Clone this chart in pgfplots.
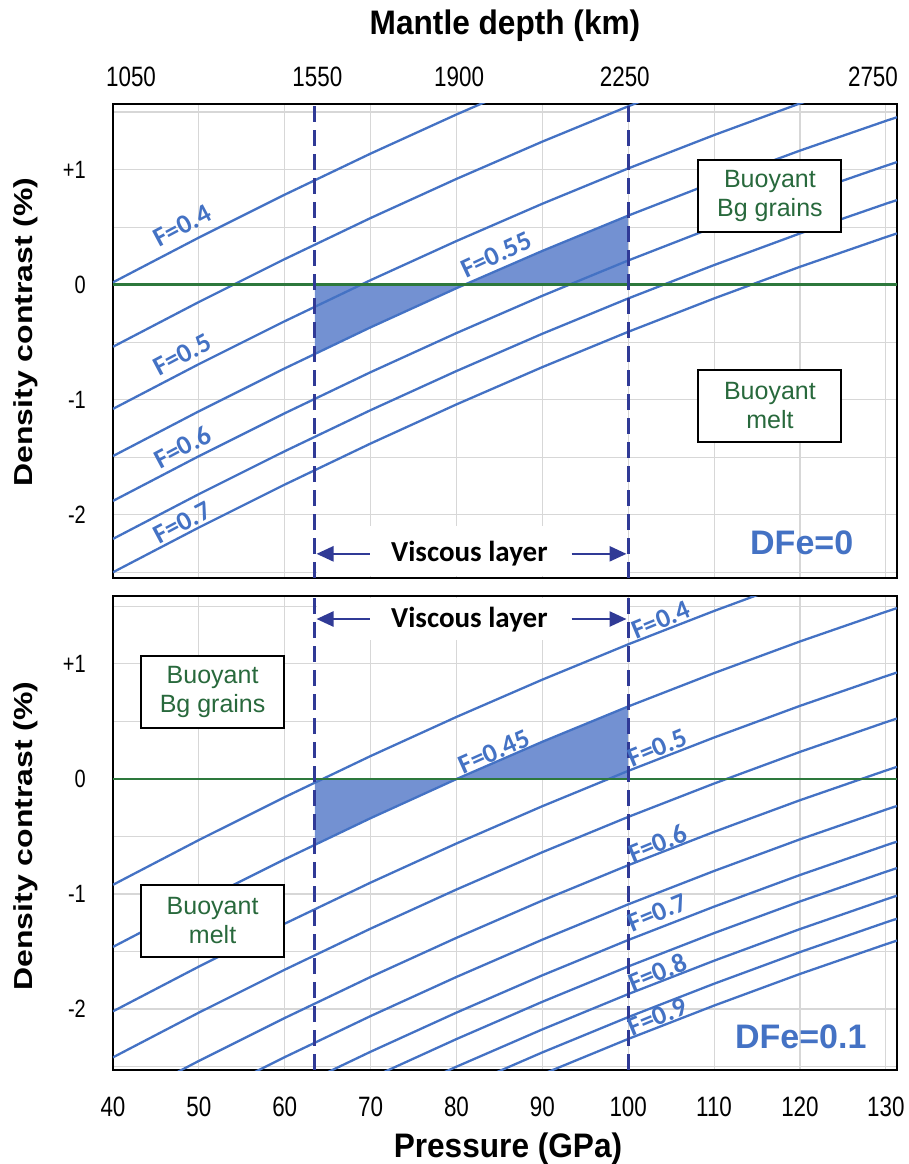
\documentclass[border=0pt]{standalone}
\usepackage{fontspec}
\setmainfont{Liberation Sans}
\newfontfamily\tickfont[FakeStretch=0.8]{Liberation Sans}
\newfontfamily\titlefont[FakeStretch=0.93]{Liberation Sans}
\newfontfamily\ylabfont[FakeStretch=1.23]{Liberation Sans}
\newfontfamily\carl{Carlito}
\usepackage{pgfplots}
\pgfplotsset{compat=1.18}
\usepackage{pgfplotstable}
\usetikzlibrary{arrows.meta}

\definecolor{cblue}{RGB}{68,114,196}
\definecolor{navy}{RGB}{48,58,150}
\definecolor{zgreen}{RGB}{45,120,60}
\definecolor{tgreen}{RGB}{40,105,60}
\definecolor{gridgray}{RGB}{215,215,215}
\definecolor{shade}{RGB}{115,145,210}

% top panel (DFe=0): F = 0.40 ... 0.70
\pgfplotstableread{
p T1 T2 T3 T4 T5 T6 T7
40 0.02 -0.54 -1.08 -1.49 -1.88 -2.21 -2.50
50 0.409 -0.151 -0.691 -1.101 -1.491 -1.821 -2.111
60 0.782 0.222 -0.318 -0.728 -1.118 -1.448 -1.738
70 1.139 0.579 0.039 -0.371 -0.761 -1.091 -1.381
80 1.479 0.919 0.379 -0.031 -0.421 -0.751 -1.041
90 1.803 1.243 0.703 0.293 -0.097 -0.427 -0.717
100 2.110 1.550 1.010 0.600 0.210 -0.120 -0.410
110 2.400 1.840 1.300 0.890 0.500 0.170 -0.120
120 2.675 2.115 1.575 1.165 0.775 0.445 0.155
130 2.933 2.373 1.833 1.423 1.033 0.703 0.413
131.3 2.965 2.405 1.865 1.455 1.065 0.735 0.445
}\toptable

% bottom panel (DFe=0.1): F = 0.40 ... 0.90
\pgfplotstableread{
p B1 B2 B3 B4 B5 B6 B7 B8 B9 B10 B11
40 -0.92 -1.46 -2.02 -2.42 -2.84 -3.18 -3.49 -3.72 -3.96 -4.16 -4.35
50 -0.531 -1.071 -1.631 -2.031 -2.451 -2.791 -3.101 -3.331 -3.571 -3.771 -3.961
60 -0.158 -0.698 -1.258 -1.658 -2.078 -2.418 -2.728 -2.958 -3.198 -3.398 -3.588
70 0.199 -0.341 -0.901 -1.301 -1.721 -2.061 -2.371 -2.601 -2.841 -3.041 -3.231
80 0.539 -0.001 -0.561 -0.961 -1.381 -1.721 -2.031 -2.261 -2.501 -2.701 -2.891
90 0.863 0.323 -0.237 -0.637 -1.057 -1.397 -1.707 -1.937 -2.177 -2.377 -2.567
100 1.170 0.630 0.070 -0.330 -0.750 -1.090 -1.400 -1.630 -1.870 -2.070 -2.260
110 1.460 0.920 0.360 -0.040 -0.460 -0.800 -1.110 -1.340 -1.580 -1.780 -1.970
120 1.735 1.195 0.635 0.235 -0.185 -0.525 -0.835 -1.065 -1.305 -1.505 -1.695
130 1.993 1.453 0.893 0.493 0.073 -0.267 -0.577 -0.807 -1.047 -1.247 -1.437
131.3 2.025 1.485 0.925 0.525 0.105 -0.235 -0.545 -0.775 -1.015 -1.215 -1.405
}\bottable

\tikzset{
  curve/.style={cblue, line width=2.3pt},
  flab/.style={font=\carl\bfseries\fontsize{27}{27}\selectfont, text=cblue, inner sep=0pt},
  bbox/.style={draw=black, line width=2pt, fill=white, text=tgreen, align=center,
    font=\fontsize{25}{29}\selectfont, minimum width=143pt, minimum height=72pt, inner sep=0pt},
  dfe/.style={font=\bfseries\fontsize{34}{34}\selectfont, text=cblue, inner sep=0pt},
  visc/.style={font=\carl\bfseries\fontsize{29}{29}\selectfont, inner sep=0pt},
  varr/.style={navy, line width=2.5pt, -{Triangle[length=17pt,width=15pt]}},
  vdash/.style={navy, line width=2.7pt, dash pattern=on 16pt off 8pt},
}

\pgfplotsset{panel/.style={
  scale only axis, width=784pt, height=474pt,
  xmin=40, xmax=131.3,
  axis line style={line width=2.5pt},
  major tick length=0pt, minor tick length=0pt,
  tick label style={inner sep=0pt},
  ytick={-2,-1,0,1}, yticklabels={-2,-1,0,+1},
  minor ytick={-2.5,-1.5,-0.5,0.5,1.5},
  ymajorgrids, yminorgrids,
  grid style={gridgray, line width=1.2pt},
  minor grid style={gridgray, line width=1.2pt},
  yticklabel style={font=\tickfont\fontsize{25}{25}\selectfont, anchor=east, xshift=-27pt},
}}

\begin{document}
\begin{tikzpicture}
\useasboundingbox (-113pt,104pt) rectangle (796pt,-1060pt);

% ---------------- top panel ----------------
\begin{axis}[panel, name=top, at={(0pt,0pt)}, anchor=north west,
  ymin=-2.55, ymax=1.57,
  xtick={42.1,63.8,80.3,99.6,128.5},
  xticklabels={1050,1550,1900,2250,2750},
  xticklabel pos=upper,
  xticklabel style={font=\tickfont\fontsize{28}{28}\selectfont, anchor=south, yshift=17pt},
  minor xtick={40,50,...,130},
  xmajorgrids=false, xminorgrids=true,
]
\fill[white] (axis cs:63.7,-2.535) rectangle (axis cs:99.8,-2.10);
\addplot[fill=shade, draw=none] coordinates {(63.5,0) (63.5,-0.60) (70,-0.371) (80,-0.031) (90,0.293) (100,0.600) (100,0) (63.5,0)};
\addplot[curve] table[x=p,y=T1]{\toptable};
\addplot[curve] table[x=p,y=T2]{\toptable};
\addplot[curve] table[x=p,y=T3]{\toptable};
\addplot[curve] table[x=p,y=T4]{\toptable};
\addplot[curve] table[x=p,y=T5]{\toptable};
\addplot[curve] table[x=p,y=T6]{\toptable};
\addplot[curve] table[x=p,y=T7]{\toptable};
\addplot[zgreen, line width=2.5pt] coordinates {(40,0) (131.3,0)};
\addplot[vdash] coordinates {(63.5,-2.55) (63.5,1.57)};
\addplot[vdash] coordinates {(100,-2.55) (100,1.57)};
\draw[varr] (axis cs:69.9,-2.34) -- (axis cs:63.7,-2.34);
\draw[varr] (axis cs:93.4,-2.34) -- (axis cs:99.8,-2.34);
\node[visc] at (axis cs:81.5,-2.34) {Viscous layer};
\node[flab, rotate=28] at (axis cs:48.1,0.51) {F=0.4};
\node[flab, rotate=28] at (axis cs:48.1,-0.61) {F=0.5};
\node[flab, rotate=28] at (axis cs:48.1,-1.41) {F=0.6};
\node[flab, rotate=28] at (axis cs:48.1,-2.07) {F=0.7};
\node[flab, rotate=25] at (axis cs:84.65,0.26) {F=0.55};
\node[bbox] at (axis cs:116.5,0.774) {Buoyant\\Bg grains};
\node[bbox] at (axis cs:116.5,-1.052) {Buoyant\\melt};
\node[dfe] at (axis cs:120.2,-2.243) {DFe=0};
\end{axis}

% ---------------- bottom panel ----------------
\begin{axis}[panel, name=bot, at={(0pt,-492pt)}, anchor=north west,
  ymin=-2.53, ymax=1.59,
  xtick={40,50,...,130},
  xticklabels={40,50,60,70,80,90,100,110,120,130},
  xticklabel style={font=\tickfont\fontsize{28}{28}\selectfont, anchor=north, yshift=-27pt},
  xmajorgrids,
]
\fill[white] (axis cs:63.7,1.575) rectangle (axis cs:99.8,1.21);
\addplot[fill=shade, draw=none] coordinates {(63.5,0) (63.5,-0.571) (70,-0.341) (80,-0.001) (90,0.323) (100,0.630) (100,0) (63.5,0)};
\addplot[curve] table[x=p,y=B1]{\bottable};
\addplot[curve] table[x=p,y=B2]{\bottable};
\addplot[curve] table[x=p,y=B3]{\bottable};
\addplot[curve] table[x=p,y=B4]{\bottable};
\addplot[curve] table[x=p,y=B5]{\bottable};
\addplot[curve] table[x=p,y=B6]{\bottable};
\addplot[curve] table[x=p,y=B7]{\bottable};
\addplot[curve] table[x=p,y=B8]{\bottable};
\addplot[curve] table[x=p,y=B9]{\bottable};
\addplot[curve] table[x=p,y=B10]{\bottable};
\addplot[curve] table[x=p,y=B11]{\bottable};
\addplot[zgreen, line width=2.5pt] coordinates {(40,0) (131.3,0)};
\addplot[vdash] coordinates {(63.5,-2.53) (63.5,1.59)};
\addplot[vdash] coordinates {(100,-2.53) (100,1.59)};
\draw[varr] (axis cs:69.9,1.39) -- (axis cs:63.7,1.39);
\draw[varr] (axis cs:93.4,1.39) -- (axis cs:99.8,1.39);
\node[visc] at (axis cs:81.5,1.383) {Viscous layer};
\node[flab, rotate=22.5] at (axis cs:103.8,1.38) {F=0.4};
\node[flab, rotate=24] at (axis cs:84.4,0.235) {F=0.45};
\node[flab, rotate=22.5] at (axis cs:103.4,0.27) {F=0.5};
\node[flab, rotate=22.5] at (axis cs:103.4,-0.56) {F=0.6};
\node[flab, rotate=22.5] at (axis cs:103.4,-1.16) {F=0.7};
\node[flab, rotate=22.5] at (axis cs:103.4,-1.68) {F=0.8};
\node[flab, rotate=22.5] at (axis cs:103.4,-2.07) {F=0.9};
\node[bbox] at (axis cs:51.6,0.757) {Buoyant\\Bg grains};
\node[bbox] at (axis cs:51.6,-1.235) {Buoyant\\melt};
\node[dfe] at (axis cs:120.1,-2.243) {DFe=0.1};
\end{axis}

% ---------------- titles ----------------
\node[anchor=base, inner sep=0pt, font=\titlefont\bfseries\fontsize{34}{34}\selectfont] at (392pt,69pt) {Mantle depth (km)};
\node[anchor=base, inner sep=0pt, font=\titlefont\bfseries\fontsize{34}{34}\selectfont] at (395pt,-1053pt) {Pressure (GPa)};
\node[rotate=90, anchor=base, inner sep=0pt, font=\ylabfont\bfseries\fontsize{26}{26}\selectfont] at (-80pt,-228pt) {Density contrast (\%)};
\node[rotate=90, anchor=base, inner sep=0pt, font=\ylabfont\bfseries\fontsize{26}{26}\selectfont] at (-80pt,-732pt) {Density contrast (\%)};
\end{tikzpicture}
\end{document}
